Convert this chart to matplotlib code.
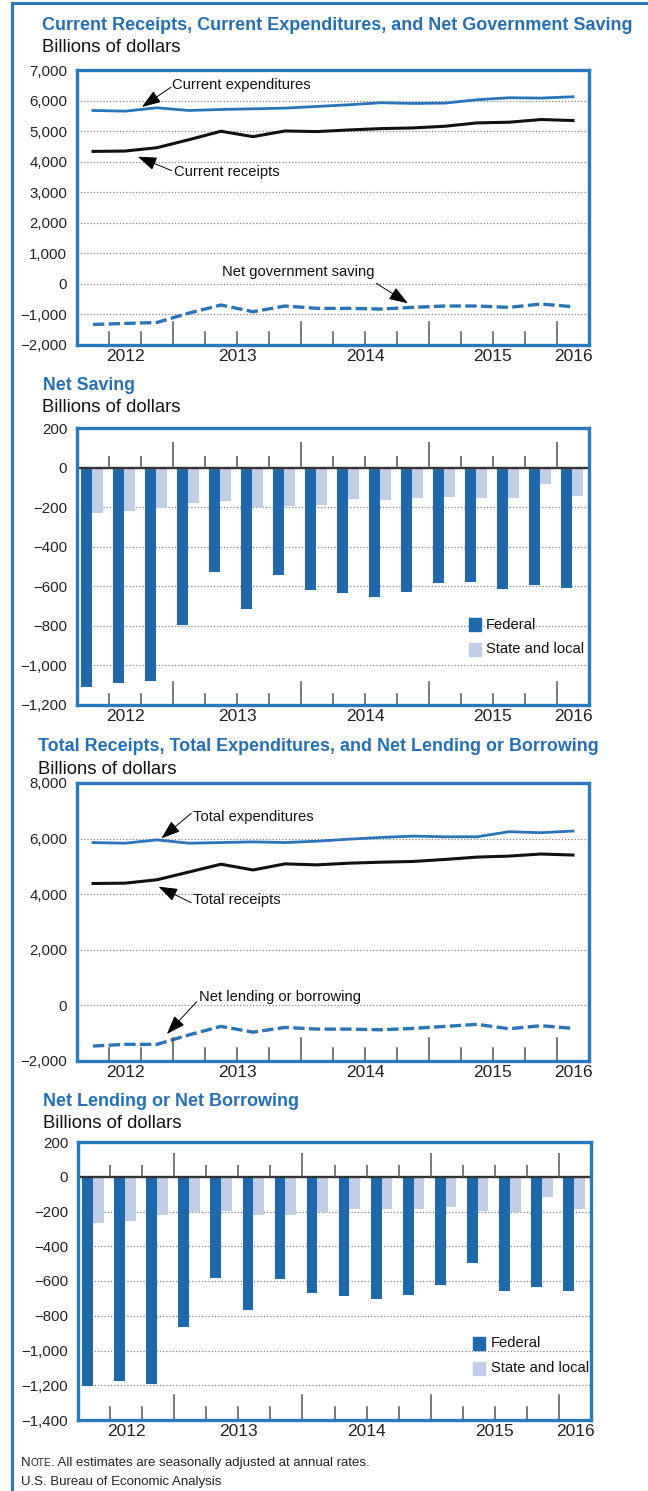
import numpy as np
import matplotlib
matplotlib.use('Agg')
import matplotlib.pyplot as plt
import matplotlib.font_manager as fm
from matplotlib.patches import Rectangle
from matplotlib.lines import Line2D

# ---------------- data ----------------
quarters = ['2012Q2', '2012Q3', '2012Q4', '2013Q1', '2013Q2', '2013Q3', '2013Q4',
            '2014Q1', '2014Q2', '2014Q3', '2014Q4', '2015Q1', '2015Q2', '2015Q3',
            '2015Q4', '2016Q1']
years = ['2012', '2013', '2014', '2015', '2016']
year_quarters = [3, 4, 4, 4, 1]

current_expenditures = [5675, 5653, 5763, 5675, 5708, 5730, 5752, 5807, 5862, 5928,
                        5906, 5917, 6026, 6092, 6081, 6125]
current_receipts = [4336, 4347, 4457, 4720, 4995, 4819, 5005, 4984, 5038, 5082,
                    5104, 5159, 5269, 5291, 5379, 5346]
net_government_saving = [-1328, -1295, -1262, -955, -692, -911, -724, -801, -801, -823,
                         -768, -724, -724, -768, -659, -746]

net_saving_federal = [-1107, -1087, -1078, -795, -528, -713, -543, -621, -633, -654,
                      -630, -582, -577, -615, -591, -611]
net_saving_state_local = [-231, -222, -204, -180, -171, -197, -195, -190, -160, -166,
                          -154, -149, -153, -153, -83, -146]

total_expenditures = [5858, 5834, 5955, 5834, 5858, 5882, 5858, 5907, 5980, 6041,
                      6090, 6065, 6065, 6248, 6212, 6273]
total_receipts = [4385, 4397, 4519, 4799, 5079, 4872, 5091, 5055, 5116, 5152,
                  5177, 5250, 5335, 5371, 5445, 5408]
net_lending_borrowing = [-1462, -1401, -1401, -1060, -755, -962, -792, -853, -853, -877,
                         -828, -755, -682, -840, -731, -828]

net_lending_federal = [-1206, -1177, -1190, -862, -581, -769, -591, -669, -686, -702,
                       -678, -622, -498, -659, -636, -655]
net_lending_state_local = [-269, -252, -219, -202, -196, -219, -219, -204, -184, -188,
                           -186, -172, -196, -200, -116, -188]

# ---------------- style ----------------
names = {f.name for f in fm.fontManager.ttflist}
NARROW = 'Liberation Sans Narrow' if 'Liberation Sans Narrow' in names else 'Liberation Sans'
REG = 'Liberation Sans'
HAS_NARROW = NARROW == 'Liberation Sans Narrow'
TICK_FS = 12.8 if HAS_NARROW else 10.8
ANN_FS = 12.8 if HAS_NARROW else 10.6
NOTE_FS = 10.5 if HAS_NARROW else 9.5

BLUE_TITLE = '#2470b6'
FRAME = '#2a78bd'
LINE_BLUE = '#2a74b8'
DARK = '#1f68ab'
LIGHT = '#c0cde6'
GRID = '#8a8a8a'
TICK = '#555555'

W, H = 648, 1491
fig = plt.figure(figsize=(W / 100, H / 100), dpi=100)
fig.patch.set_facecolor('white')


def fx(x):
    return x / W


def fy(y):
    return 1 - y / H


def ax_rect(top, bottom, left=77, right=589):
    return [left / W, 1 - bottom / H, (right - left) / W, (bottom - top) / H]


def fmt(v):
    s = f'{abs(v):,}'
    return ('\u2212' + s) if v < 0 else s


x = np.arange(len(quarters))
starts = np.concatenate([[0], np.cumsum(year_quarters)[:-1]]) - 0.5
year_centers = starts + np.array(year_quarters) / 2
year_bounds = (np.cumsum(year_quarters)[:-1] - 0.5)
quarter_bounds = [b for b in np.arange(0.5, len(quarters) - 0.5, 1.0)
                  if not np.any(np.isclose(b, year_bounds))]


def base_axes(rect, ylim, yticks, grid):
    ax = fig.add_axes(rect)
    ax.set_xlim(-0.5, len(quarters) - 0.5)
    ax.set_ylim(*ylim)
    for s in ax.spines.values():
        s.set_color(FRAME)
        s.set_linewidth(2.4)
        s.set_zorder(5)
    ax.set_yticks(yticks)
    ax.set_yticklabels([fmt(v) for v in yticks], fontfamily=NARROW, fontsize=TICK_FS,
                       color='#222222')
    ax.tick_params(axis='y', length=0, pad=7)
    ax.set_xticks(year_centers)
    ax.set_xticklabels(years, fontfamily=REG, fontsize=12.5, color='#222222')
    ax.tick_params(axis='x', length=0, pad=3)
    for g in grid:
        ax.axhline(g, color=GRID, lw=0.9, ls=(0, (1, 1.6)), zorder=0)
    return ax


def bottom_ticks(ax, tall_px, short_px, height_px):
    for b in year_bounds:
        ax.axvline(b, 0, tall_px / height_px, color=TICK, lw=1.1, zorder=4)
    for b in quarter_bounds:
        ax.axvline(b, 0, short_px / height_px, color=TICK, lw=1.1, zorder=4)


def zero_ticks(ax, tall, short):
    ax.vlines(year_bounds, 0, tall, color=TICK, lw=1.1, zorder=4)
    ax.vlines(quarter_bounds, 0, short, color=TICK, lw=1.1, zorder=4)


def arrow(ax, head, tail):
    ax.annotate('', xy=head, xytext=tail,
                arrowprops=dict(arrowstyle='-|>,head_length=0.9,head_width=0.32',
                                color='black', lw=0.7, mutation_scale=13,
                                shrinkA=0, shrinkB=0), zorder=6)


def label(ax, xy, s, ha='left'):
    ax.text(xy[0], xy[1], s, ha=ha, va='center', fontfamily=NARROW, fontsize=ANN_FS,
            color='#111111', zorder=6)


titles = []


def title(xpx, ypx, s, target_w):
    t = fig.text(fx(xpx), fy(ypx), s, ha='left', va='center', fontfamily=NARROW,
                 fontweight='bold', fontsize=14, color=BLUE_TITLE)
    titles.append((t, target_w))


def subtitle(xpx, ypx, target_w):
    t = fig.text(fx(xpx), fy(ypx), 'Billions of dollars', ha='left', va='center',
                 fontfamily=REG, fontsize=12.5, color='#111111')
    titles.append((t, target_w))


# ---------------- panel 1 ----------------
ax1 = base_axes(ax_rect(70, 345), (-2000, 7000), list(range(-2000, 7001, 1000)),
                list(range(-1000, 6001, 1000)))
ax1.plot(x, current_expenditures, color=LINE_BLUE, lw=2.0, zorder=3,
         solid_joinstyle='round')
ax1.plot(x, current_receipts, color='#111111', lw=2.2, zorder=3, solid_joinstyle='round')
ax1.plot(x, net_government_saving, color=LINE_BLUE, lw=2.4, ls=(0, (3.4, 1.3)), zorder=3)
bottom_ticks(ax1, 23, 13, 275)
label(ax1, (2.47, 6510), 'Current expenditures')
arrow(ax1, (1.53, 5790), (2.44, 6440))
label(ax1, (2.53, 3672), 'Current receipts')
arrow(ax1, (1.40, 4163), (2.46, 3705))
label(ax1, (6.42, 381), 'Net government saving', ha='center')
arrow(ax1, (9.84, -634), (8.85, 21))
title(42, 25, 'Current Receipts, Current Expenditures, and Net Government Saving', 591)
subtitle(42, 48, 140)

# ---------------- panel 2 ----------------
bw = 0.335
ax2 = base_axes(ax_rect(428, 705), (-1200, 200), list(range(-1200, 201, 200)),
                list(range(-1000, -199, 200)))
ax2.bar(x - 0.2, net_saving_federal, width=bw, color=DARK, zorder=2)
ax2.bar(x + 0.135, net_saving_state_local, width=bw, color=LIGHT, zorder=2)
ax2.axhline(0, color='#333333', lw=1.7, zorder=3)
zero_ticks(ax2, 131, 61)
bottom_ticks(ax2, 23, 11, 277)
title(42.6, 385, 'Net Saving', 92)
subtitle(42, 408, 140)

# ---------------- panel 3 ----------------
ax3 = base_axes(ax_rect(783, 1061), (-2000, 8000), list(range(-2000, 8001, 2000)),
                list(range(0, 6001, 2000)))
ax3.plot(x, total_expenditures, color=LINE_BLUE, lw=2.0, zorder=3, solid_joinstyle='round')
ax3.plot(x, total_receipts, color='#111111', lw=2.2, zorder=3, solid_joinstyle='round')
ax3.plot(x, net_lending_borrowing, color=LINE_BLUE, lw=2.4, ls=(0, (3.4, 1.3)), zorder=3)
bottom_ticks(ax3, 23, 13, 278)
label(ax3, (3.11, 6788), 'Total expenditures')
arrow(ax3, (2.14, 6011), (3.07, 6910))
label(ax3, (3.11, 3791), 'Total receipts')
arrow(ax3, (2.05, 4270), (3.07, 3695))
label(ax3, (3.30, 313), 'Net lending or borrowing')
arrow(ax3, (2.31, -1029), (3.24, 134))
title(38, 747, 'Total Receipts, Total Expenditures, and Net Lending or Borrowing', 560)
subtitle(38, 769, 140)

# ---------------- panel 4 ----------------
ax4 = base_axes(ax_rect(1142, 1420, 78, 591), (-1400, 200), list(range(-1400, 201, 200)),
                list(range(-1200, -199, 200)))
ax4.bar(x - 0.2, net_lending_federal, width=bw, color=DARK, zorder=2)
ax4.bar(x + 0.135, net_lending_state_local, width=bw, color=LIGHT, zorder=2)
ax4.axhline(0, color='#333333', lw=1.7, zorder=3)
zero_ticks(ax4, 134, 67)
bottom_ticks(ax4, 25, 12.7, 278)
title(42.6, 1102, 'Net Lending or Net Borrowing', 256)
subtitle(42.6, 1123, 140)

# ---------------- legends ----------------
def legend(x0, y_fed, y_sl, tx):
    for yc, col, s in [(y_fed, DARK, 'Federal'), (y_sl, LIGHT, 'State and local')]:
        fig.add_artist(Rectangle((fx(x0), fy(yc + 6.5)), 11.5 / W, 13 / H,
                                 transform=fig.transFigure, color=col))
        fig.text(fx(tx), fy(yc), s, ha='left', va='center', fontfamily=NARROW,
                 fontsize=ANN_FS, color='#111111')


legend(469, 625, 649, 486)
legend(473, 1343, 1368, 491)

# ---------------- note ----------------
note_y = 1466
n1 = fig.text(fx(21), fy(note_y), 'N', ha='left', va='baseline', fontfamily=NARROW,
              fontsize=NOTE_FS, color='#222222')
fig.canvas.draw()
r = fig.canvas.get_renderer()
bb = n1.get_window_extent(r)
n2 = fig.text(bb.x1 / W, fy(note_y), 'OTE', ha='left', va='baseline', fontfamily=NARROW,
              fontsize=NOTE_FS * 0.76, color='#222222')
bb2 = n2.get_window_extent(r)
fig.text(bb2.x1 / W, fy(note_y), '. All estimates are seasonally adjusted at annual rates.',
         ha='left', va='baseline', fontfamily=NARROW, fontsize=NOTE_FS, color='#222222')
fig.text(fx(21), fy(note_y + 19), 'U.S. Bureau of Economic Analysis', ha='left',
         va='baseline', fontfamily=NARROW, fontsize=NOTE_FS, color='#222222')

# ---------------- outer frame ----------------
fig.add_artist(Line2D([fx(12), fx(12)], [0, fy(3)], color=FRAME, lw=2.2,
                      transform=fig.transFigure))
fig.add_artist(Line2D([fx(12), 1], [fy(3), fy(3)], color=FRAME, lw=2.2,
                      transform=fig.transFigure))

# fit title widths
fig.canvas.draw()
r = fig.canvas.get_renderer()
for t, tw in titles:
    w = t.get_window_extent(r).width
    t.set_fontsize(t.get_fontsize() * tw / w)

fig.savefig('out.png', dpi=100, facecolor='white')
